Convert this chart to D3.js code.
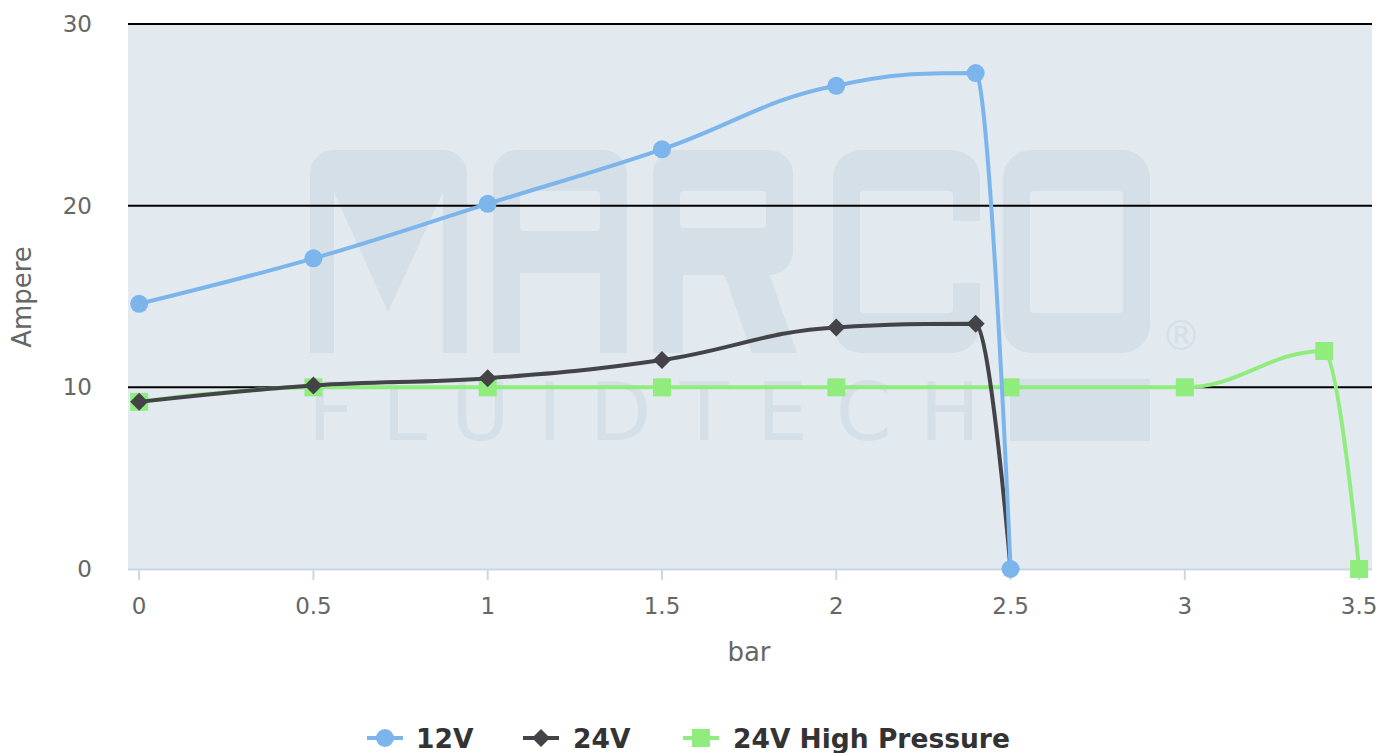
<!DOCTYPE html>
<html>
<head>
<meta charset="utf-8">
<script src="https://cdn.jsdelivr.net/npm/d3@7"></script>
<style>
  body { margin: 0; background: #fff; }
  svg { display: block; font-family: "DejaVu Sans", sans-serif; }
</style>
</head>
<body>
<div class="chart"></div>
<script>
// chart data
var xTicks = [0, 0.5, 1, 1.5, 2, 2.5, 3, 3.5];
var yTicks = [0, 10, 20, 30];

var bar12 = [0, 0.5, 1, 1.5, 2, 2.4, 2.5];
var amp12 = [14.6, 17.1, 20.1, 23.1, 26.6, 27.3, 0];

var bar24 = [0, 0.5, 1, 1.5, 2, 2.4, 2.5];
var amp24 = [9.2, 10.1, 10.5, 11.5, 13.3, 13.5, 0];

var barHp = [0, 0.5, 1, 1.5, 2, 2.5, 3, 3.4, 3.5];
var ampHp = [9.2, 10, 10, 10, 10, 10, 10, 12, 0];

var seriesNames = ['12V', '24V', '24V High Pressure'];
var seriesColors = ['#7cb5ec', '#434348', '#90ed7d'];
var seriesMarkers = ['circle', 'diamond', 'square'];

var width = 1384,
    height = 753;

var plot = { left: 128, top: 24, right: 1372, bottom: 569 };
var bg = '#e2e9ef',
    wmColor = '#d4dfe7';

var x = d3.scaleLinear().domain([-0.032, 3.537]).range([plot.left, plot.right]);
var y = d3.scaleLinear().domain([0, 30]).range([plot.bottom, plot.top]);

var svg = d3.select('.chart').append('svg')
    .attr('width', width)
    .attr('height', height);

// plot background
svg.append('rect')
    .attr('x', plot.left)
    .attr('y', plot.top)
    .attr('width', plot.right - plot.left)
    .attr('height', plot.bottom - plot.top)
    .attr('fill', bg);

// watermark logo, blocks in logo colour then holes in background colour
var wm = svg.append('g');
var block = function(x0, y0, w, h, r, color) {
  wm.append('rect')
    .attr('x', x0).attr('y', y0)
    .attr('width', w).attr('height', h)
    .attr('rx', r || 0)
    .attr('fill', color || wmColor);
};
var poly = function(pts, color) {
  wm.append('path')
    .attr('d', 'M' + pts.join('L') + 'Z')
    .attr('fill', color || wmColor);
};
var top0 = 150, bot0 = 353;
// M
block(310, top0, 157, bot0 - top0, 24);
block(310, bot0 - 30, 157, 30);
poly([[334, 192], [388, 312], [443, 192], [443, bot0], [334, bot0]], bg);
// A
block(493, top0, 134, bot0 - top0, 24);
block(493, bot0 - 30, 134, 30);
block(520, 191, 80, 40, 4, bg);
block(520, 273, 80, bot0 - 273, 0, bg);
// R
block(653, top0, 140, 125, 24);
block(653, 200, 30, bot0 - 200);
poly([[720, 262], [765, 262], [797, bot0], [752, bot0]]);
block(680, 191, 86, 37, 4, bg);
// C
block(833, top0, 147, bot0 - top0, 28);
block(860, 191, 93, 122, 4, bg);
block(950, 221, 32, 62, 0, bg);
// O
block(1003, top0, 147, bot0 - top0, 28);
block(1030, 191, 93, 122, 4, bg);
// bar under O
block(1010, 379, 140, 62);

wm.append('text')
    .attr('x', 308).attr('y', 440)
    .attr('textLength', 672)
    .attr('lengthAdjust', 'spacing')
    .attr('fill', wmColor)
    .style('font-size', '80px')
    .text('FLUIDTECH');
wm.append('text')
    .attr('x', 1161).attr('y', 350)
    .attr('fill', wmColor)
    .style('font-size', '40px')
    .text('\u00ae');

// grid lines
svg.append('g').selectAll('line')
    .data(yTicks.filter(function(d) { return d > 0; }))
  .enter().append('line')
    .attr('x1', plot.left)
    .attr('x2', plot.right)
    .attr('y1', function(d) { return y(d); })
    .attr('y2', function(d) { return y(d); })
    .attr('stroke', '#000')
    .attr('stroke-width', 2);

// x axis
var xAxis = svg.append('g');
xAxis.append('line')
    .attr('x1', plot.left).attr('x2', plot.right)
    .attr('y1', plot.bottom + 0.5).attr('y2', plot.bottom + 0.5)
    .attr('stroke', '#ccd6eb')
    .attr('stroke-width', 2);
xAxis.selectAll('.tick')
    .data(xTicks)
  .enter().append('line')
    .attr('x1', function(d) { return x(d); })
    .attr('x2', function(d) { return x(d); })
    .attr('y1', plot.bottom)
    .attr('y2', plot.bottom + 11)
    .attr('stroke', '#ccd6eb')
    .attr('stroke-width', 2);
xAxis.selectAll('text')
    .data(xTicks)
  .enter().append('text')
    .attr('x', function(d) { return x(d); })
    .attr('y', 614)
    .attr('text-anchor', 'middle')
    .attr('fill', '#666')
    .style('font-size', '23px')
    .text(function(d) { return d; });

// y axis labels
svg.append('g').selectAll('text')
    .data(yTicks)
  .enter().append('text')
    .attr('x', 92)
    .attr('y', function(d) { return y(d) + 8; })
    .attr('text-anchor', 'end')
    .attr('fill', '#666')
    .style('font-size', '23px')
    .text(function(d) { return d; });

// axis titles
svg.append('text')
    .attr('x', 749).attr('y', 661)
    .attr('text-anchor', 'middle')
    .attr('fill', '#666')
    .style('font-size', '26px')
    .text('bar');
svg.append('text')
    .attr('transform', 'translate(31,297) rotate(-90)')
    .attr('text-anchor', 'middle')
    .attr('fill', '#666')
    .style('font-size', '26px')
    .text('Ampere');

// highcharts style spline path
var splinePath = function(pts) {
  var smoothing = 1.5, denom = smoothing + 1;
  var ctrl = pts.map(function(p, i) {
    var c = { lx: p[0], ly: p[1], rx: p[0], ry: p[1] };
    if (i > 0 && i < pts.length - 1) {
      var last = pts[i - 1], next = pts[i + 1];
      c.lx = (smoothing * p[0] + last[0]) / denom;
      c.ly = (smoothing * p[1] + last[1]) / denom;
      c.rx = (smoothing * p[0] + next[0]) / denom;
      c.ry = (smoothing * p[1] + next[1]) / denom;
      if (c.rx !== c.lx) {
        var corr = ((c.ry - c.ly) * (c.rx - p[0])) / (c.rx - c.lx) + p[1] - c.ry;
        c.ly += corr;
        c.ry += corr;
      }
      if (c.ly > last[1] && c.ly > p[1]) {
        c.ly = Math.max(last[1], p[1]);
        c.ry = 2 * p[1] - c.ly;
      } else if (c.ly < last[1] && c.ly < p[1]) {
        c.ly = Math.min(last[1], p[1]);
        c.ry = 2 * p[1] - c.ly;
      }
      if (c.ry > next[1] && c.ry > p[1]) {
        c.ry = Math.max(next[1], p[1]);
        c.ly = 2 * p[1] - c.ry;
      } else if (c.ry < next[1] && c.ry < p[1]) {
        c.ry = Math.min(next[1], p[1]);
        c.ly = 2 * p[1] - c.ry;
      }
    }
    return c;
  });
  var d = 'M' + pts[0][0] + ',' + pts[0][1];
  for (var i = 1; i < pts.length; i++) {
    d += 'C' + ctrl[i - 1].rx + ',' + ctrl[i - 1].ry + ' ' +
         ctrl[i].lx + ',' + ctrl[i].ly + ' ' + pts[i][0] + ',' + pts[i][1];
  }
  return d;
};

var drawMarker = function(g, type, cx, cy, color, size) {
  if (type === 'circle') {
    g.append('circle').attr('cx', cx).attr('cy', cy).attr('r', size).attr('fill', color);
  } else if (type === 'diamond') {
    g.append('path')
      .attr('d', 'M' + cx + ',' + (cy - size) + 'L' + (cx + size) + ',' + cy +
                 'L' + cx + ',' + (cy + size) + 'L' + (cx - size) + ',' + cy + 'Z')
      .attr('fill', color);
  } else {
    g.append('rect')
      .attr('x', cx - size).attr('y', cy - size)
      .attr('width', size * 2).attr('height', size * 2)
      .attr('fill', color);
  }
};

var allSeries = [[bar12, amp12], [bar24, amp24], [barHp, ampHp]];

// draw order: green under black under blue like the picture
[2, 1, 0].forEach(function(s) {
  var xs = allSeries[s][0], ys = allSeries[s][1];
  var pts = xs.map(function(v, i) { return [x(v), y(ys[i])]; });
  var g = svg.append('g');
  g.append('path')
    .attr('d', splinePath(pts))
    .attr('fill', 'none')
    .attr('stroke', seriesColors[s])
    .attr('stroke-width', 4);
  pts.forEach(function(p) {
    drawMarker(g, seriesMarkers[s], p[0], p[1], seriesColors[s], 9);
  });
});

// legend
var legendItems = [
  { sx: 367, tx: 416 },
  { sx: 523, tx: 573 },
  { sx: 683, tx: 733 }
];
var legend = svg.append('g');
legendItems.forEach(function(item, i) {
  legend.append('line')
    .attr('x1', item.sx).attr('x2', item.sx + 36)
    .attr('y1', 738).attr('y2', 738)
    .attr('stroke', seriesColors[i])
    .attr('stroke-width', 4);
  drawMarker(legend, seriesMarkers[i], item.sx + 18, 738, seriesColors[i], 9);
  legend.append('text')
    .attr('x', item.tx).attr('y', 748)
    .attr('fill', '#333')
    .style('font-size', '26.5px')
    .style('font-weight', 'bold')
    .text(seriesNames[i]);
});
</script>
</body>
</html>
